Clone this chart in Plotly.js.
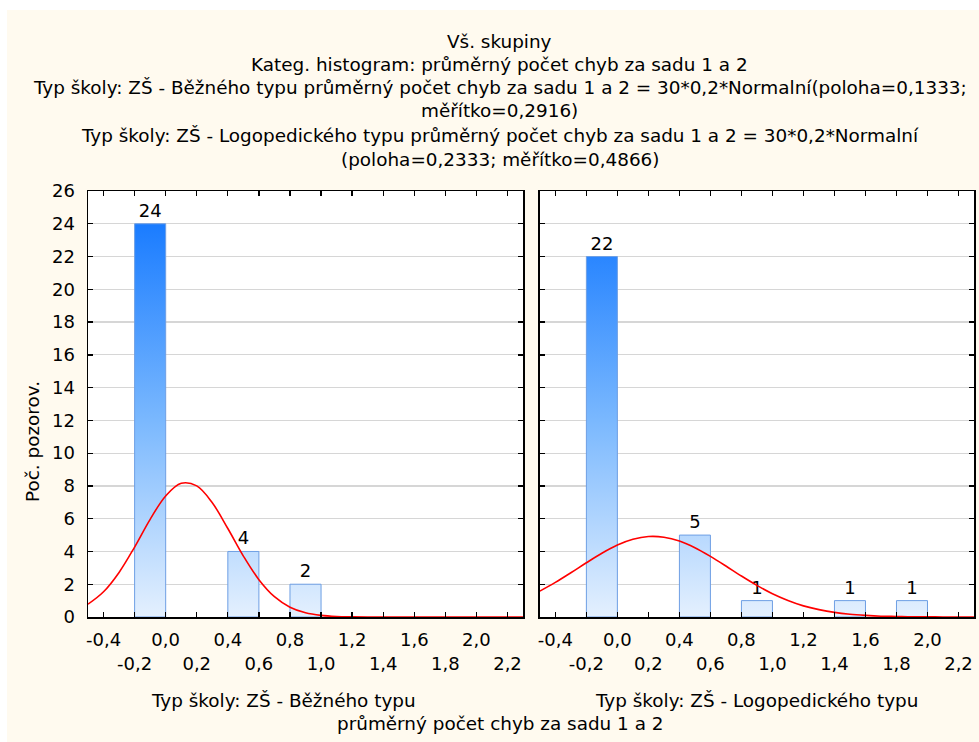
<!DOCTYPE html>
<html><head><meta charset="utf-8">
<script src="https://cdn.plot.ly/plotly-3.0.1.min.js"></script>
<style>html,body{margin:0;padding:0;background:#ffffff;overflow:hidden;} #chart{position:absolute;left:7px;top:10px;width:972px;height:732px;}</style>
</head><body><div id="chart"></div>
<script>
// ---- data ----
const binWidth = 0.2;
const binCenters1 = [-0.1, 0.5, 0.9];
const counts1 = [24, 4, 2];
const binCenters2 = [-0.1, 0.5, 0.9, 1.5, 1.9];
const counts2 = [22, 5, 1, 1, 1];

const curveX = [-0.5,-0.4,-0.3,-0.2,-0.1,0.0,0.1,0.2,0.3,0.4,0.5,0.6,0.7,0.8,0.9,1.0,1.1,1.2,1.3,1.4,1.5,1.6,1.7,1.8,1.9,2.0,2.1,2.2,2.3];
const curve1 = [0.78,1.54,2.72,4.27,5.96,7.39,8.16,8.00,6.97,5.40,3.72,2.28,1.24,0.60,0.26,0.10,0.03,0.01,0,0,0,0,0,0,0,0,0,0,0];
const curve2 = [1.58,2.11,2.70,3.31,3.89,4.39,4.74,4.91,4.87,4.64,4.23,3.70,3.11,2.50,1.93,1.42,1.01,0.68,0.45,0.28,0.17,0.10,0.05,0.03,0.01,0.01,0,0,0];

// tick labels alternate between two rows (second row prefixed by a line break)
const xTickVals = [-0.4,-0.2,0.0,0.2,0.4,0.6,0.8,1.0,1.2,1.4,1.6,1.8,2.0,2.2];
const xTickText = ['-0,4','<br>-0,2','0,0','<br>0,2','0,4','<br>0,6','0,8','<br>1,0','1,2','<br>1,4','1,6','<br>1,8','2,0','<br>2,2'];
const yTickVals = [0,2,4,6,8,10,12,14,16,18,20,22,24,26];
const yTickText = ['0','2','4','6','8','10','12','14','16','18','20','22','24','26'];

const titleLines = [
  'Vš. skupiny',
  'Kateg. histogram: průměrný počet chyb za sadu 1 a 2',
  'Typ školy: ZŠ - Běžného typu průměrný počet chyb za sadu 1 a 2 = 30*0,2*Normalní(poloha=0,1333;',
  'měřítko=0,2916)',
  'Typ školy: ZŠ - Logopedického typu průměrný počet chyb za sadu 1 a 2 = 30*0,2*Normalní',
  '(poloha=0,2333; měřítko=0,4866)'
];
const panelLabels = ['Typ školy: ZŠ - Běžného typu', 'Typ školy: ZŠ - Logopedického typu'];
const xTitle = 'průměrný počet chyb za sadu 1 a 2';
const yTitle = 'Poč. pozorov.';

// ---- styles ----
const FONT = 'DejaVu Sans';
const TXT = 18.4;
const barMarker = {color:'#8cc0fe', line:{color:'#6e9fe4', width:1}};
function barTrace(x, y, xa, ya){
  return {type:'bar', x:x, y:y, width:binWidth, xaxis:xa, yaxis:ya, marker:barMarker,
    text:y.map(String), textposition:'outside', cliponaxis:false,
    textfont:{family:FONT, size:18, color:'#000'}, hoverinfo:'skip', showlegend:false};
}
function curveTrace(x, y, xa, ya){
  return {type:'scatter', mode:'lines', x:x, y:y, xaxis:xa, yaxis:ya,
    line:{color:'#ff0000', width:1.6, shape:'spline', smoothing:1}, hoverinfo:'skip', showlegend:false};
}
const data = [
  barTrace(binCenters1, counts1, 'x', 'y'),
  barTrace(binCenters2, counts2, 'x2', 'y2'),
  curveTrace(curveX, curve1, 'x', 'y'),
  curveTrace(curveX, curve2, 'x2', 'y2')
];

const axBase = {showline:true, linecolor:'#000', linewidth:1.5, mirror:'ticks', ticks:'inside',
  ticklen:5, tickwidth:1.3, tickcolor:'#000', zeroline:false, fixedrange:true,
  tickfont:{family:FONT, size:18, color:'#000'}};
const xBase = Object.assign({}, axBase, {range:[-0.5,2.3], tickmode:'array', tickvals:xTickVals,
  ticktext:xTickText, tickangle:0, showgrid:false, ticklabelstandoff:6});
const yBase = Object.assign({}, axBase, {range:[0,26], tickmode:'array', tickvals:yTickVals,
  ticktext:yTickText, showgrid:true, gridcolor:'#d6d6d6', gridwidth:1.2, ticklabelstandoff:8});

const annotations = [];
const titleY = [1.352, 1.298, 1.242, 1.188, 1.131, 1.075];
function ann(text, x, y, extra){
  return Object.assign({text:text, xref:'paper', yref:'paper', x:x, y:y, xanchor:'center', yanchor:'middle',
    showarrow:false, font:{family:FONT, size:TXT, color:'#000'}}, extra || {});
}
titleLines.forEach((t,i)=>annotations.push(ann(t, 0.465, titleY[i])));
annotations.push(ann(panelLabels[0], 0.221, -0.197));
annotations.push(ann(panelLabels[1], 0.755, -0.197));
annotations.push(ann(xTitle, 0.465, -0.249));
annotations.push(ann(yTitle, -0.062, 0.411, {textangle:-90}));

const layout = {
  width:972, height:732,
  margin:{l:81, r:5, t:181, b:125},
  paper_bgcolor:'#fffaef', plot_bgcolor:'#ffffff',
  font:{family:FONT, size:18, color:'#000'},
  showlegend:false, bargap:0,
  xaxis:Object.assign({}, xBase, {domain:[0,0.491], anchor:'y'}),
  xaxis2:Object.assign({}, xBase, {domain:[0.510,1], anchor:'y2'}),
  yaxis:Object.assign({}, yBase, {domain:[0,1], anchor:'x'}),
  yaxis2:Object.assign({}, yBase, {domain:[0,1], anchor:'x2', showticklabels:false}),
  annotations:annotations
};

const gd = document.getElementById('chart');
Plotly.newPlot(gd, data, layout, {staticPlot:true, displayModeBar:false}).then(function(){
  const ya = gd._fullLayout.yaxis;
  const NS = 'http://www.w3.org/2000/svg';
  const defs = gd.querySelector('.main-svg defs');
  const grad = document.createElementNS(NS, 'linearGradient');
  grad.setAttribute('id', 'barGrad');
  grad.setAttribute('gradientUnits', 'userSpaceOnUse');
  grad.setAttribute('x1', '0'); grad.setAttribute('x2', '0');
  grad.setAttribute('y1', String(ya.l2p(0)));
  grad.setAttribute('y2', String(ya.l2p(24)));
  [[0,'#e4f0fe'],[0.5,'#7ab8fe'],[1,'#1a7cff']].forEach(function(s){
    const st = document.createElementNS(NS, 'stop');
    st.setAttribute('offset', String(s[0]));
    st.setAttribute('stop-color', s[1]);
    grad.appendChild(st);
  });
  defs.appendChild(grad);
  gd.querySelectorAll('.barlayer .point path').forEach(function(p){ p.style.fill = 'url(#barGrad)'; });
});
</script>
</body></html>
